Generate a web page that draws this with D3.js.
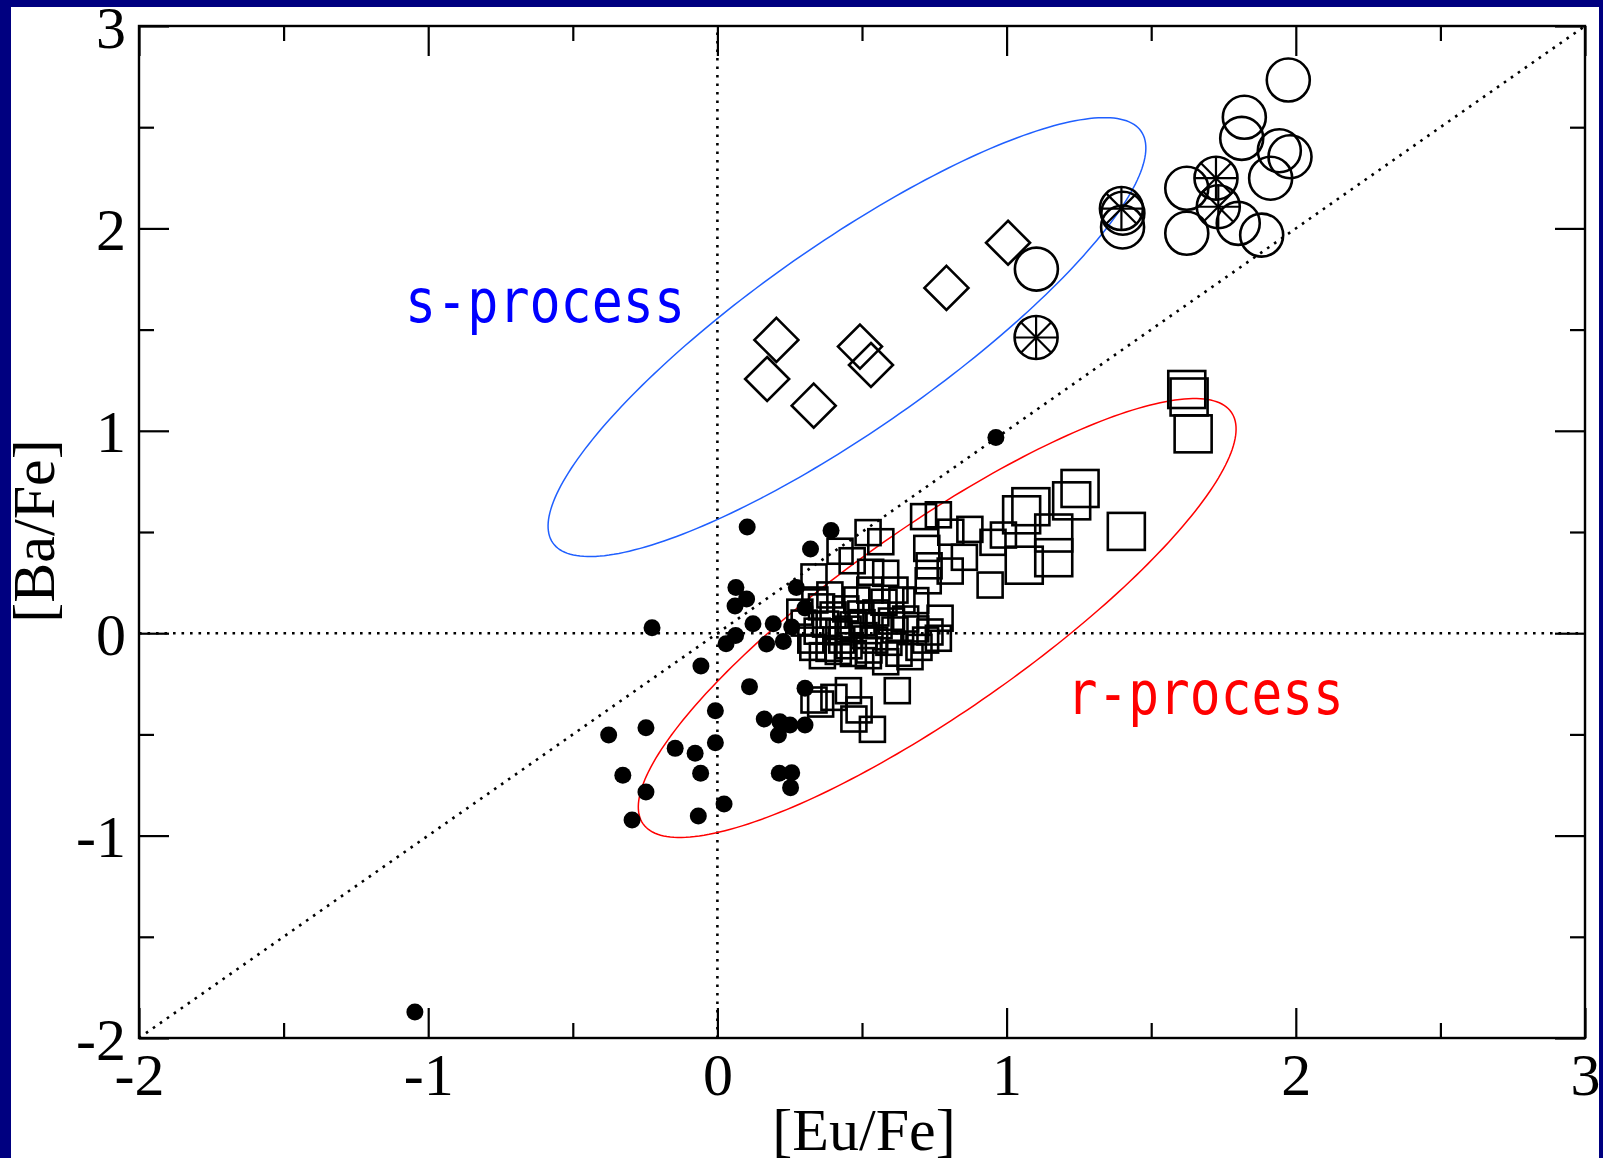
<!DOCTYPE html>
<html>
<head>
<meta charset="utf-8">
<script src="https://cdn.jsdelivr.net/npm/d3@7"></script>
<style>
  html, body { margin: 0; padding: 0; background: #000080; }
  svg { display: block; }
</style>
</head>
<body>
<svg id="chart" width="1603" height="1158"></svg>
<script>
// ---- data: [Eu/Fe], [Ba/Fe] pairs ----
// ordinary metal-poor stars (filled dots)
const metalPoorStars = [
  [0.103,0.525],[0.393,0.507],[0.322,0.416],[0.064,0.226],[0.101,0.169],[0.061,0.134],
  [-0.226,0.027],[0.123,0.047],[0.193,0.047],[0.273,0.226],[0.303,0.125],[0.257,0.031],
  [0.063,-0.011],[0.030,-0.052],[0.170,-0.053],[0.228,-0.041],[-0.057,-0.162],[0.111,-0.264],
  [0.303,-0.272],[-0.007,-0.383],[0.162,-0.424],[0.216,-0.437],[0.251,-0.454],[0.211,-0.503],
  [0.303,-0.454],[-0.247,-0.467],[-0.376,-0.503],[-0.007,-0.541],[-0.146,-0.569],[-0.077,-0.593],
  [-0.327,-0.702],[-0.058,-0.692],[0.214,-0.692],[0.257,-0.689],[0.253,-0.763],[-0.247,-0.785],
  [0.023,-0.844],[-0.295,-0.923],[-0.066,-0.903],[0.963,0.967],[-1.046,-1.872]
];

// r-process enhanced stars (small open squares)
const rEnhancedStars = [
  [0.713,0.576],[0.764,0.585],[0.807,0.499],[0.873,0.513],[0.724,0.419],[0.854,0.375],
  [0.805,0.307],[0.953,0.449],[0.989,0.485],[0.943,0.238],[0.686,0.161],[0.770,0.074],
  [0.732,0.333],[0.729,0.259],
  [0.521,0.497],[0.565,0.452],[0.424,0.405],[0.466,0.358],[0.334,0.278],[0.530,0.301],
  [0.582,0.296],[0.614,0.213],
  [0.323,-0.034],[0.374,0.045],[0.386,-0.075],[0.420,0.007],[0.363,-0.111],[0.444,0.120],
  [0.496,0.095],[0.507,-0.012],[0.455,-0.062],[0.522,-0.111],[0.559,0.037],[0.576,0.153],
  [0.593,-0.045],[0.628,-0.099],[0.686,0.021],[0.697,-0.070],[0.720,-0.034],[0.764,-0.025],
  [0.651,0.070],[0.524,-0.083],[0.666,-0.116],[0.582,-0.141],[0.400,0.090],[0.469,0.041],
  [0.430,-0.034],[0.544,-0.034],[0.614,0.016],[0.482,0.164],[0.527,0.213],[0.337,0.164],
  [0.285,0.104],[0.389,0.189],[0.638,0.164],[0.735,0.006],
  [0.300,0.050],[0.345,0.010],[0.360,0.130],[0.452,0.020],[0.500,0.052],[0.470,-0.100],
  [0.548,0.100],[0.602,0.060],[0.418,-0.090],[0.330,-0.070],
  [0.622,-0.284],[0.453,-0.284],[0.403,-0.317],[0.334,-0.330],[0.357,-0.350],[0.472,-0.424],
  [0.536,-0.475],[0.490,-0.379]
];

// strongly r-process enhanced stars (large open squares)
const rIIStars = [
  [1.623,1.204],[1.631,1.167],[1.645,0.985],[1.414,0.503],[1.254,0.715],[1.225,0.654],
  [1.084,0.625],[1.052,0.585],[1.163,0.495],[1.163,0.373],[1.061,0.336]
];

// s-process enriched stars (open diamonds)
const sDiamondStars = [
  [0.204,1.449],[0.172,1.256],[0.333,1.124],[0.493,1.416],[0.531,1.325],[0.792,1.706],[1.005,1.929]
];

// CEMP-s stars (open circles)
const cempCircleStars = [
  [1.103,1.799],[1.402,2.075],[1.401,2.007],[1.623,2.198],[1.623,1.976],[1.801,2.025],
  [1.882,1.967],[1.822,2.549],[1.813,2.445],[1.943,2.384],[1.980,2.354],[1.913,2.248],
  [1.974,2.733]
];

// CEMP-r/s stars (circles with asterisk)
const cempStarredStars = [
  [1.102,1.461],[1.397,2.098],[1.724,2.248],[1.732,2.107]
];

// axis ticks
const xMajor = [-2, -1, 0, 1, 2, 3];
const xTickLabels = ["-2", "-1", "0", "1", "2", "3"];
const yMajor = [-2, -1, 0, 1, 2, 3];
const yTickLabels = ["-2", "-1", "0", "1", "2", "3"];
const xMinor = [-1.5, -0.5, 0.5, 1.5, 2.5];
const yMinor = [-1.5, -0.5, 0.5, 1.5, 2.5];

// process regions: centre plus two half-axis vectors, in data units
const sRegion = { c: [0.448, 1.463], u: [1.017, 1.017], v: [0.184, -0.376] };
const rRegion = { c: [0.760, 0.075], u: [1.017, 1.017], v: [0.184, -0.376] };

// region labels: [Eu/Fe], [Ba/Fe] of text start
const sLabel = { text: "s-process", pos: [-1.080, 1.538] };
const rLabel = { text: "r-process", pos: [1.208, -0.399] };

// ---- drawing ----
const W = 1603, H = 1158;
const svg = d3.select("#chart");

svg.append("rect").attr("x", 11).attr("y", 7).attr("width", 1588).attr("height", H - 7).attr("fill", "#fff");

const x = d3.scaleLinear().domain([-2, 3]).range([139, 1585]);
const y = d3.scaleLinear().domain([-2, 3]).range([1038, 26]);
const [x0, x1] = x.range();
const [y0, y1] = y.range(); // y0 bottom, y1 top

const serif = "'Liberation Serif', 'Times New Roman', Times, serif";

// reference lines (dotted)
const dotted = svg.append("g").attr("stroke", "#000").attr("stroke-width", 2.6)
  .attr("stroke-dasharray", "2.6,5.9").attr("fill", "none");
dotted.append("line").attr("x1", x(0)).attr("x2", x(0)).attr("y1", y(-2)).attr("y2", y(3));
dotted.append("line").attr("x1", x(-2)).attr("x2", x(3)).attr("y1", y(0)).attr("y2", y(0));
dotted.append("line").attr("x1", x(-2)).attr("x2", x(3)).attr("y1", y(-2)).attr("y2", y(3));

// region ellipses
function ellipsePoints(r) {
  const pts = [];
  for (let i = 0; i < 240; i++) {
    const t = (i / 240) * 2 * Math.PI;
    const ex = r.c[0] + Math.cos(t) * r.u[0] + Math.sin(t) * r.v[0];
    const ey = r.c[1] + Math.cos(t) * r.u[1] + Math.sin(t) * r.v[1];
    pts.push([x(ex), y(ey)]);
  }
  return pts;
}
const closedLine = d3.line().curve(d3.curveLinearClosed);
svg.append("path").attr("d", closedLine(ellipsePoints(sRegion)))
  .attr("fill", "none").attr("stroke", "#1f5fff").attr("stroke-width", 1.5);
svg.append("path").attr("d", closedLine(ellipsePoints(rRegion)))
  .attr("fill", "none").attr("stroke", "#ff0000").attr("stroke-width", 1.5);

// markers
const marks = svg.append("g").attr("fill", "none").attr("stroke", "#000").attr("stroke-width", 2.6);

marks.selectAll("circle.dot").data(metalPoorStars).join("circle")
  .attr("class", "dot").attr("cx", d => x(d[0])).attr("cy", d => y(d[1])).attr("r", 8.5)
  .attr("fill", "#000").attr("stroke", "none");

const sq = 25, sqBig = 37;
marks.selectAll("rect.rsmall").data(rEnhancedStars).join("rect")
  .attr("class", "rsmall").attr("x", d => x(d[0]) - sq / 2).attr("y", d => y(d[1]) - sq / 2)
  .attr("width", sq).attr("height", sq);
marks.selectAll("rect.rbig").data(rIIStars).join("rect")
  .attr("class", "rbig").attr("x", d => x(d[0]) - sqBig / 2).attr("y", d => y(d[1]) - sqBig / 2)
  .attr("width", sqBig).attr("height", sqBig);

const dh = 22;
marks.selectAll("path.diamond").data(sDiamondStars).join("path")
  .attr("class", "diamond")
  .attr("d", d => {
    const cx = x(d[0]), cy = y(d[1]);
    return `M${cx},${cy - dh}L${cx + dh},${cy}L${cx},${cy + dh}L${cx - dh},${cy}Z`;
  });

const cr = 21.5;
marks.selectAll("circle.cemp").data(cempCircleStars).join("circle")
  .attr("class", "cemp").attr("cx", d => x(d[0])).attr("cy", d => y(d[1])).attr("r", cr);

const starred = marks.selectAll("g.starred").data(cempStarredStars).join("g")
  .attr("class", "starred").attr("transform", d => `translate(${x(d[0])},${y(d[1])})`);
starred.append("circle").attr("r", cr);
starred.selectAll("line").data([0, 45, 90, 135]).join("line")
  .attr("x1", a => -cr * Math.cos(a * Math.PI / 180)).attr("y1", a => -cr * Math.sin(a * Math.PI / 180))
  .attr("x2", a => cr * Math.cos(a * Math.PI / 180)).attr("y2", a => cr * Math.sin(a * Math.PI / 180))
  .attr("stroke-width", 2.2);

// region labels
const mono = "'DejaVu Sans Mono', 'Liberation Mono', monospace";
svg.append("text").attr("x", x(sLabel.pos[0])).attr("y", y(sLabel.pos[1]))
  .attr("font-family", mono).attr("font-size", 60).attr("fill", "#0000ff")
  .attr("textLength", 280).attr("lengthAdjust", "spacingAndGlyphs").text(sLabel.text);
svg.append("text").attr("x", x(rLabel.pos[0])).attr("y", y(rLabel.pos[1]))
  .attr("font-family", mono).attr("font-size", 60).attr("fill", "#ff0000")
  .attr("textLength", 277).attr("lengthAdjust", "spacingAndGlyphs").text(rLabel.text);

// axes: ticks point inward on all four sides
function styleAxis(g) {
  g.select(".domain").remove();
  g.selectAll(".tick line").attr("stroke", "#000").attr("stroke-width", 2.2);
  g.selectAll(".tick text").attr("font-family", serif).attr("font-size", 60).attr("fill", "#000");
}
svg.append("g").attr("transform", `translate(0,${y0})`)
  .call(d3.axisBottom(x).tickValues(xMajor).tickSize(-30).tickPadding(14).tickFormat((d, i) => xTickLabels[i]))
  .call(styleAxis);
svg.append("g").attr("transform", `translate(0,${y0})`)
  .call(d3.axisBottom(x).tickValues(xMinor).tickSize(-15).tickFormat(""))
  .call(styleAxis);
svg.append("g").attr("transform", `translate(0,${y1})`)
  .call(d3.axisTop(x).tickValues(xMajor).tickSize(-30).tickFormat(""))
  .call(styleAxis);
svg.append("g").attr("transform", `translate(0,${y1})`)
  .call(d3.axisTop(x).tickValues(xMinor).tickSize(-15).tickFormat(""))
  .call(styleAxis);
svg.append("g").attr("transform", `translate(${x0},0)`)
  .call(d3.axisLeft(y).tickValues(yMajor).tickSize(-30).tickPadding(13).tickFormat((d, i) => yTickLabels[i]))
  .call(styleAxis)
  .call(g => g.selectAll(".tick text").attr("dy", "0.35em"));
svg.append("g").attr("transform", `translate(${x0},0)`)
  .call(d3.axisLeft(y).tickValues(yMinor).tickSize(-15).tickFormat(""))
  .call(styleAxis);
svg.append("g").attr("transform", `translate(${x1},0)`)
  .call(d3.axisRight(y).tickValues(yMajor).tickSize(-30).tickFormat(""))
  .call(styleAxis);
svg.append("g").attr("transform", `translate(${x1},0)`)
  .call(d3.axisRight(y).tickValues(yMinor).tickSize(-15).tickFormat(""))
  .call(styleAxis);

// plot frame
svg.append("rect").attr("x", x0).attr("y", y1).attr("width", x1 - x0).attr("height", y0 - y1)
  .attr("fill", "none").attr("stroke", "#000").attr("stroke-width", 2.4);

// axis titles
svg.append("text").attr("x", (x0 + x1) / 2 + 2).attr("y", 1150)
  .attr("text-anchor", "middle").attr("font-family", serif).attr("font-size", 60).text("[Eu/Fe]");
svg.append("text").attr("transform", `translate(54,${531}) rotate(-90)`)
  .attr("text-anchor", "middle").attr("font-family", serif).attr("font-size", 60).text("[Ba/Fe]");

// surrounding slide border
const border = svg.append("g").attr("fill", "#000080");
border.append("rect").attr("x", 0).attr("y", 0).attr("width", 11).attr("height", H);
border.append("rect").attr("x", 0).attr("y", 0).attr("width", W).attr("height", 7);
border.append("rect").attr("x", 1599).attr("y", 0).attr("width", 4).attr("height", H);
</script>
</body>
</html>
